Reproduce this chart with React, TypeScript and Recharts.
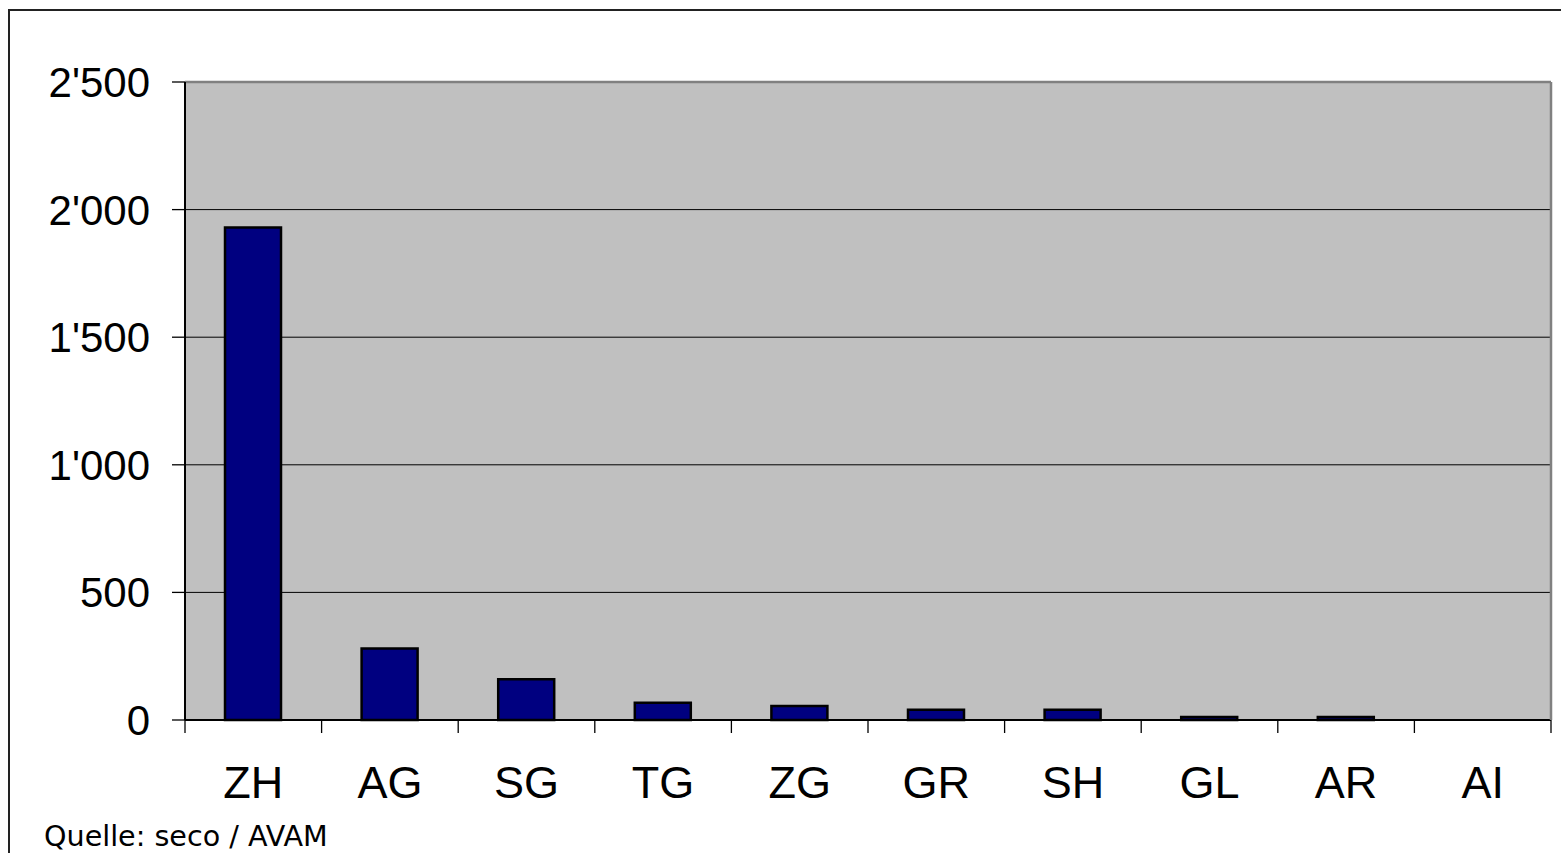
import React from 'react';
import { BarChart, Bar, XAxis, YAxis, CartesianGrid, ReferenceLine } from 'recharts';

const cantons = ['ZH', 'AG', 'SG', 'TG', 'ZG', 'GR', 'SH', 'GL', 'AR', 'AI'];
const values = [1930, 280, 160, 68, 55, 40, 40, 12, 12, 0];
const yTicks = [0, 500, 1000, 1500, 2000, 2500];
const sourceNote = 'Quelle: seco / AVAM';

const data = cantons.map((name, i) => ({ name, value: values[i] }));

const fmt = (v: number) =>
  v >= 1000 ? `${Math.floor(v / 1000)}'${String(v % 1000).padStart(3, '0')}` : String(v);

const FONT = '"Liberation Sans", Arial, sans-serif';

const XTick = (props: any) => {
  const { x, y, payload, index, visibleTicksCount } = props;
  const off = payload && typeof payload.offset === 'number' ? payload.offset : 68.3;
  const isLast = index === (visibleTicksCount ?? cantons.length) - 1;
  return (
    <g>
      <line x1={x - off} x2={x - off} y1={y} y2={y + 13} stroke="#000" strokeWidth={1.3} />
      {isLast && <line x1={x + off} x2={x + off} y1={y} y2={y + 13} stroke="#000" strokeWidth={1.3} />}
      <text x={x} y={y + 78} textAnchor="middle" fontSize={45} fontFamily={FONT} fill="#000">
        {payload.value}
      </text>
    </g>
  );
};

export default function App() {
  return (
    <div
      style={{
        position: 'absolute',
        left: 0,
        top: 0,
        width: 1561,
        height: 853,
        overflow: 'hidden',
        background: '#fff',
      }}
    >
      <div
        style={{
          position: 'absolute',
          left: 8,
          top: 9,
          width: 1700,
          height: 1000,
          border: '2px solid #222',
        }}
      />
      <div style={{ position: 'absolute', left: 0, top: 0 }}>
        <BarChart
          width={1561}
          height={853}
          data={data}
          margin={{ top: 82, right: 0, bottom: 53, left: 0 }}
        >
          <CartesianGrid
            vertical={false}
            fill="#C0C0C0"
            fillOpacity={1}
            stroke="#000"
            strokeWidth={1}
          />
          <XAxis
            dataKey="name"
            height={80}
            tickSize={0}
            tickMargin={0}
            tickLine={false}
            axisLine={{ stroke: '#000', strokeWidth: 2 }}
            tick={<XTick />}
            interval={0}
          />
          <YAxis
            width={185}
            domain={[0, 2500]}
            ticks={yTicks}
            tickFormatter={fmt}
            tickSize={13}
            tickMargin={22}
            tickLine={{ stroke: '#000', strokeWidth: 1.3 }}
            axisLine={{ stroke: '#000', strokeWidth: 2 }}
            tick={{ fontSize: 42, fontFamily: FONT, fill: '#000' }}
          />
          <YAxis
            yAxisId="right"
            orientation="right"
            width={10}
            domain={[0, 2500]}
            tick={false}
            tickLine={false}
            axisLine={{ stroke: '#808080', strokeWidth: 2.5 }}
          />
          <ReferenceLine y={2500} stroke="#808080" strokeWidth={2.5} />
          <Bar
            dataKey="value"
            fill="#000080"
            stroke="#000"
            strokeWidth={2.5}
            barSize={56}
            isAnimationActive={false}
          />
        </BarChart>
      </div>
      <svg
        width={1561}
        height={853}
        style={{ position: 'absolute', left: 0, top: 0, pointerEvents: 'none' }}
      >
        <text x={44} y={846} fontSize={28.6} fontFamily='"DejaVu Sans", Verdana, sans-serif' fill="#000">
          {sourceNote}
        </text>
      </svg>
    </div>
  );
}
